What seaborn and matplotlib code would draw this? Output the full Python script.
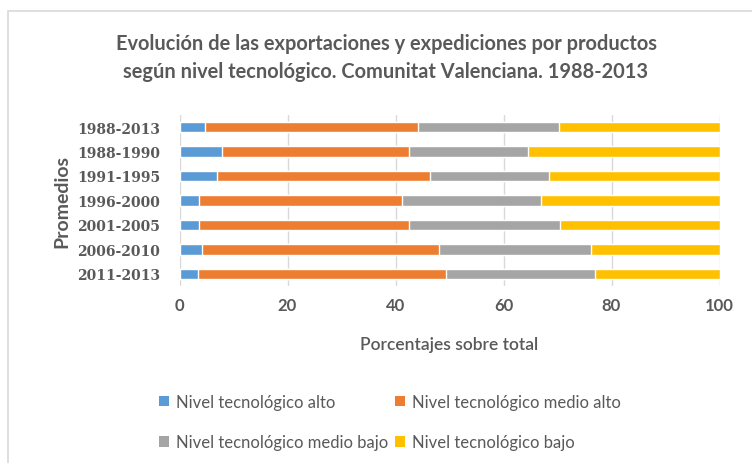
import pandas as pd
import matplotlib.pyplot as plt
import seaborn as sns
import numpy as np
from matplotlib.patches import Patch, Rectangle

# datos (porcentajes sobre total)
periodos = ['1988-2013', '1988-1990', '1991-1995', '1996-2000',
            '2001-2005', '2006-2010', '2011-2013']
alto = [4.7, 7.9, 7.0, 3.7, 3.7, 4.2, 3.4]
medio_alto = [39.4, 34.6, 39.3, 37.5, 38.8, 43.9, 45.9]
medio_bajo = [26.2, 22.0, 22.1, 25.7, 28.0, 28.1, 27.6]
bajo = [29.7, 35.5, 31.6, 33.1, 29.5, 23.8, 23.1]

series = ['Nivel tecnológico alto', 'Nivel tecnológico medio alto',
          'Nivel tecnológico medio bajo', 'Nivel tecnológico bajo']
colores = ['#5B9BD5', '#ED7D31', '#A5A5A5', '#FFC000']

df = pd.DataFrame({'Promedios': periodos,
                   series[0]: alto, series[1]: medio_alto,
                   series[2]: medio_bajo, series[3]: bajo})
# acumulados para apilar
cum = df[series].cumsum(axis=1)
cum['Promedios'] = df['Promedios']

gris = '#595959'
sns.set_style('white')
plt.rcParams['font.family'] = ['Lato', 'DejaVu Sans']

fig = plt.figure(figsize=(7.52, 4.64), dpi=100)
ax = fig.add_axes([179.5 / 752, 1 - 287.25 / 464, 540 / 752, 171.5 / 464])

# de atras hacia adelante
for s, c in reversed(list(zip(series, colores))):
    sns.barplot(data=cum, x=s, y='Promedios', order=periodos, color=c,
                width=0.41, errorbar=None, saturation=1, ax=ax, zorder=3)

ax.set_xlim(0, 100)
ax.set_xticks(range(0, 101, 20))
ax.grid(axis='x', color='#D9D9D9', linewidth=1, zorder=0)
ax.set_axisbelow(True)
for sp in ax.spines.values():
    sp.set_visible(False)
ax.tick_params(axis='x', length=0, pad=8)
ax.tick_params(axis='y', length=0, pad=14)
for lab in ax.get_xticklabels():
    lab.set_fontsize(12)
    lab.set_color(gris)
    lab.set_fontweight('bold')
for lab in ax.get_yticklabels():
    lab.set_fontfamily('DejaVu Serif')
    lab.set_fontsize(10)
    lab.set_fontweight('bold')
    lab.set_color(gris)
ax.set_xlabel('Porcentajes sobre total', fontsize=12.5, color=gris,
              fontweight='semibold', labelpad=16)
ax.set_ylabel('Promedios', fontsize=14, color=gris, fontweight='bold')
ax.yaxis.set_label_coords(-0.203, 0.5)

fig.text(386 / 752, 1 - 58 / 464,
         'Evolución de las exportaciones y expediciones por productos\n'
         'según nivel tecnológico. Comunitat Valenciana. 1988-2013',
         ha='center', va='center', fontsize=14.4, fontweight='bold', color=gris,
         linespacing=1.5)

handles = [Patch(facecolor=c, edgecolor='none') for c in colores]
orden = [0, 2, 1, 3]
leg = fig.legend([handles[i] for i in orden], [series[i] for i in orden],
                 ncol=2, loc='center', bbox_to_anchor=(390 / 752, 1 - 423 / 464),
                 frameon=False, fontsize=12, handlelength=0.6, handleheight=0.6,
                 handletextpad=0.4, columnspacing=0.4, labelspacing=1.45)
for t in leg.get_texts():
    t.set_color(gris)

# marco del area del grafico
fig.patches.append(Rectangle((8 / 752, -0.1), 2, 1 - 12 / 464 + 0.1,
                             transform=fig.transFigure, fill=False,
                             edgecolor='#D9D9D9', linewidth=1.2))

fig.savefig('out.png', dpi=100)
